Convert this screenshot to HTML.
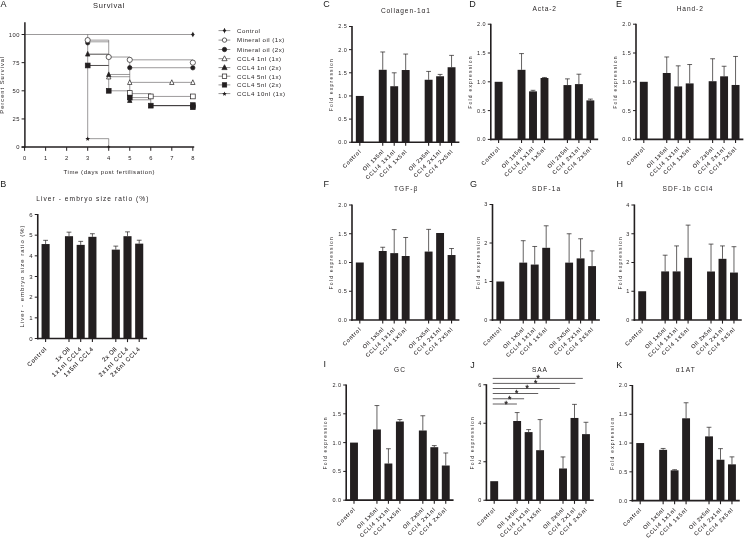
<!DOCTYPE html>
<html lang="en">
<head>
<meta charset="utf-8">
<title>Figure</title>
<style>
html,body{margin:0;padding:0;background:#fff;}
body{width:744px;height:538px;overflow:hidden;}
svg{display:block;font-family:"Liberation Sans",sans-serif;fill:#231f20;}
text{stroke:none;}
text.xl{stroke:#231f20;stroke-width:0.1px;}
</style>
</head>
<body>
<svg width="744" height="538" viewBox="0 0 744 538">
<rect x="0" y="0" width="744" height="538" fill="#fff"/>
<g>
<text x="0.40" y="7.30" font-size="9.0" fill="#1a1a1a" stroke="none">A</text>
<text x="108.70" y="8.00" font-size="7.5" text-anchor="middle" textLength="31.20" lengthAdjust="spacing">Survival</text>
<line x1="24.60" y1="34.50" x2="192.84" y2="34.50" stroke="#4a4647" stroke-width="0.55"/>
<line x1="87.69" y1="34.50" x2="87.69" y2="138.66" stroke="#4a4647" stroke-width="0.55"/>
<line x1="87.69" y1="138.66" x2="108.72" y2="138.66" stroke="#4a4647" stroke-width="0.55"/>
<line x1="108.72" y1="138.66" x2="108.72" y2="147.10" stroke="#4a4647" stroke-width="0.55"/>
<line x1="87.69" y1="40.13" x2="108.72" y2="40.13" stroke="#4a4647" stroke-width="0.55"/>
<line x1="87.69" y1="41.82" x2="108.72" y2="41.82" stroke="#4a4647" stroke-width="0.55"/>
<line x1="87.69" y1="54.20" x2="108.72" y2="54.20" stroke="#231f20" stroke-width="0.8"/>
<line x1="87.69" y1="65.47" x2="108.72" y2="65.47" stroke="#231f20" stroke-width="0.8"/>
<line x1="108.72" y1="40.13" x2="108.72" y2="90.80" stroke="#4a4647" stroke-width="0.55"/>
<line x1="108.72" y1="57.02" x2="129.75" y2="57.02" stroke="#4a4647" stroke-width="0.55"/>
<line x1="108.72" y1="74.47" x2="129.75" y2="74.47" stroke="#4a4647" stroke-width="0.55"/>
<line x1="108.72" y1="76.72" x2="129.75" y2="76.72" stroke="#4a4647" stroke-width="0.55"/>
<line x1="108.72" y1="90.80" x2="129.75" y2="90.80" stroke="#4a4647" stroke-width="0.55"/>
<line x1="129.75" y1="57.02" x2="129.75" y2="99.81" stroke="#4a4647" stroke-width="0.55"/>
<line x1="129.75" y1="59.84" x2="192.84" y2="59.84" stroke="#4a4647" stroke-width="0.55"/>
<line x1="129.75" y1="67.72" x2="192.84" y2="67.72" stroke="#4a4647" stroke-width="0.55"/>
<line x1="129.75" y1="82.36" x2="192.84" y2="82.36" stroke="#4a4647" stroke-width="0.55"/>
<line x1="129.75" y1="93.62" x2="150.78" y2="93.62" stroke="#4a4647" stroke-width="0.55"/>
<line x1="129.75" y1="97.56" x2="150.78" y2="97.56" stroke="#4a4647" stroke-width="0.55"/>
<line x1="129.75" y1="99.81" x2="150.78" y2="99.81" stroke="#4a4647" stroke-width="0.55"/>
<line x1="150.78" y1="93.62" x2="150.78" y2="105.44" stroke="#4a4647" stroke-width="0.55"/>
<line x1="150.78" y1="96.43" x2="192.84" y2="96.43" stroke="#4a4647" stroke-width="0.55"/>
<line x1="150.78" y1="105.66" x2="192.84" y2="105.66" stroke="#231f20" stroke-width="1.0"/>
<line x1="192.84" y1="59.84" x2="192.84" y2="62.65" stroke="#4a4647" stroke-width="0.55"/>
<line x1="192.84" y1="104.88" x2="192.84" y2="107.69" stroke="#4a4647" stroke-width="0.55"/>
<path d="M108.72 74.26 L110.92 78.96 H106.52 Z" fill="#fff" stroke="#231f20" stroke-width="0.7"/>
<path d="M129.75 79.78 L131.95 84.48 H127.55 Z" fill="#fff" stroke="#231f20" stroke-width="0.7"/>
<path d="M171.81 79.78 L174.01 84.48 H169.61 Z" fill="#fff" stroke="#231f20" stroke-width="0.7"/>
<path d="M192.84 79.78 L195.04 84.48 H190.64 Z" fill="#fff" stroke="#231f20" stroke-width="0.7"/>
<path d="M87.69 51.41 L89.89 56.10 H85.49 Z" fill="#231f20" stroke="#231f20" stroke-width="0.7"/>
<path d="M108.72 71.90 L110.92 76.60 H106.52 Z" fill="#231f20" stroke="#231f20" stroke-width="0.7"/>
<path d="M129.75 97.80 L131.95 102.50 H127.55 Z" fill="#231f20" stroke="#231f20" stroke-width="0.7"/>
<rect x="127.35" y="90.65" width="4.80" height="4.80" fill="#fff" stroke="#231f20" stroke-width="0.7"/>
<rect x="148.38" y="94.03" width="4.80" height="4.80" fill="#fff" stroke="#231f20" stroke-width="0.7"/>
<rect x="190.44" y="94.03" width="4.80" height="4.80" fill="#fff" stroke="#231f20" stroke-width="0.7"/>
<rect x="85.29" y="63.07" width="4.80" height="4.80" fill="#231f20" stroke="#231f20" stroke-width="0.7"/>
<rect x="106.32" y="88.40" width="4.80" height="4.80" fill="#231f20" stroke="#231f20" stroke-width="0.7"/>
<rect x="127.35" y="95.16" width="4.80" height="4.80" fill="#231f20" stroke="#231f20" stroke-width="0.7"/>
<rect x="148.38" y="103.26" width="4.80" height="4.80" fill="#231f20" stroke="#231f20" stroke-width="0.7"/>
<rect x="190.44" y="102.70" width="4.80" height="4.80" fill="#231f20" stroke="#231f20" stroke-width="0.7"/>
<rect x="190.44" y="104.84" width="4.80" height="4.80" fill="#231f20" stroke="#231f20" stroke-width="0.7"/>
<circle cx="87.69" cy="42.83" r="2.15" fill="#231f20" stroke="#231f20" stroke-width="0.7"/>
<circle cx="129.75" cy="67.72" r="2.15" fill="#231f20" stroke="#231f20" stroke-width="0.7"/>
<circle cx="192.84" cy="67.83" r="2.15" fill="#231f20" stroke="#231f20" stroke-width="0.7"/>
<circle cx="87.69" cy="40.13" r="2.6" fill="#fff" stroke="#231f20" stroke-width="0.7"/>
<circle cx="108.72" cy="57.02" r="2.6" fill="#fff" stroke="#231f20" stroke-width="0.7"/>
<circle cx="129.75" cy="59.84" r="2.6" fill="#fff" stroke="#231f20" stroke-width="0.7"/>
<circle cx="192.84" cy="62.65" r="2.6" fill="#fff" stroke="#231f20" stroke-width="0.7"/>
<polygon points="87.69,136.45 88.34,137.96 89.97,138.11 88.74,139.20 89.10,140.80 87.69,139.96 86.28,140.80 86.64,139.20 85.41,138.11 87.04,137.96" fill="#231f20"/>
<polygon points="108.72,145.10 109.21,146.23 110.43,146.34 109.51,147.16 109.78,148.36 108.72,147.73 107.66,148.36 107.93,147.16 107.01,146.34 108.23,146.23" fill="#231f20"/>
<path d="M192.84 32.60 L194.74 34.50 L192.84 36.40 L190.94 34.50 Z" fill="#231f20"/>
<line x1="192.84" y1="31.90" x2="192.84" y2="37.10" stroke="#231f20" stroke-width="0.7"/>
<line x1="24.90" y1="22.20" x2="24.90" y2="147.80" stroke="#231f20" stroke-width="1.5"/>
<line x1="21.60" y1="147.10" x2="194.20" y2="147.10" stroke="#231f20" stroke-width="1.5"/>
<line x1="21.60" y1="147.10" x2="24.90" y2="147.10" stroke="#231f20" stroke-width="1.0"/>
<text x="19.90" y="149.20" font-size="5.8" text-anchor="end" letter-spacing="0.5">0</text>
<line x1="21.60" y1="118.95" x2="24.90" y2="118.95" stroke="#231f20" stroke-width="1.0"/>
<text x="19.90" y="121.05" font-size="5.8" text-anchor="end" letter-spacing="0.5">25</text>
<line x1="21.60" y1="90.80" x2="24.90" y2="90.80" stroke="#231f20" stroke-width="1.0"/>
<text x="19.90" y="92.90" font-size="5.8" text-anchor="end" letter-spacing="0.5">50</text>
<line x1="21.60" y1="62.65" x2="24.90" y2="62.65" stroke="#231f20" stroke-width="1.0"/>
<text x="19.90" y="64.75" font-size="5.8" text-anchor="end" letter-spacing="0.5">75</text>
<line x1="21.60" y1="34.50" x2="24.90" y2="34.50" stroke="#231f20" stroke-width="1.0"/>
<text x="19.90" y="36.60" font-size="5.8" text-anchor="end" letter-spacing="0.5">100</text>
<line x1="24.60" y1="147.10" x2="24.60" y2="150.80" stroke="#231f20" stroke-width="1.0"/>
<text x="24.60" y="159.70" font-size="5.8" text-anchor="middle">0</text>
<line x1="45.63" y1="147.10" x2="45.63" y2="150.80" stroke="#231f20" stroke-width="1.0"/>
<text x="45.63" y="159.70" font-size="5.8" text-anchor="middle">1</text>
<line x1="66.66" y1="147.10" x2="66.66" y2="150.80" stroke="#231f20" stroke-width="1.0"/>
<text x="66.66" y="159.70" font-size="5.8" text-anchor="middle">2</text>
<line x1="87.69" y1="147.10" x2="87.69" y2="150.80" stroke="#231f20" stroke-width="1.0"/>
<text x="87.69" y="159.70" font-size="5.8" text-anchor="middle">3</text>
<line x1="108.72" y1="147.10" x2="108.72" y2="150.80" stroke="#231f20" stroke-width="1.0"/>
<text x="108.72" y="159.70" font-size="5.8" text-anchor="middle">4</text>
<line x1="129.75" y1="147.10" x2="129.75" y2="150.80" stroke="#231f20" stroke-width="1.0"/>
<text x="129.75" y="159.70" font-size="5.8" text-anchor="middle">5</text>
<line x1="150.78" y1="147.10" x2="150.78" y2="150.80" stroke="#231f20" stroke-width="1.0"/>
<text x="150.78" y="159.70" font-size="5.8" text-anchor="middle">6</text>
<line x1="171.81" y1="147.10" x2="171.81" y2="150.80" stroke="#231f20" stroke-width="1.0"/>
<text x="171.81" y="159.70" font-size="5.8" text-anchor="middle">7</text>
<line x1="192.84" y1="147.10" x2="192.84" y2="150.80" stroke="#231f20" stroke-width="1.0"/>
<text x="192.84" y="159.70" font-size="5.8" text-anchor="middle">8</text>
<text x="109.00" y="173.90" font-size="6.0" text-anchor="middle" textLength="90.90" lengthAdjust="spacing">Time (days post fertilisation)</text>
<text x="4.4" y="85.2" font-size="5.8" text-anchor="middle" textLength="57" lengthAdjust="spacing" transform="rotate(-90 4.4 85.2)">Percent Survival</text>
<line x1="218.50" y1="30.60" x2="230.30" y2="30.60" stroke="#4a4647" stroke-width="0.6"/>
<path d="M224.50 28.70 L226.40 30.60 L224.50 32.50 L222.60 30.60 Z" fill="#231f20"/>
<line x1="224.50" y1="28.00" x2="224.50" y2="33.20" stroke="#231f20" stroke-width="0.7"/>
<text x="237.10" y="32.90" font-size="6.1" textLength="22.80" lengthAdjust="spacing">Control</text>
<line x1="218.50" y1="40.10" x2="230.30" y2="40.10" stroke="#4a4647" stroke-width="0.6"/>
<circle cx="224.5" cy="40.1" r="2.2" fill="#fff" stroke="#231f20" stroke-width="0.7"/>
<text x="237.10" y="42.40" font-size="6.1" textLength="47.10" lengthAdjust="spacing">Mineral oil (1x)</text>
<line x1="218.50" y1="49.50" x2="230.30" y2="49.50" stroke="#4a4647" stroke-width="0.6"/>
<circle cx="224.5" cy="49.5" r="2.2" fill="#231f20" stroke="#231f20" stroke-width="0.7"/>
<text x="237.10" y="51.80" font-size="6.1" textLength="47.10" lengthAdjust="spacing">Mineral oil (2x)</text>
<line x1="218.50" y1="58.70" x2="230.30" y2="58.70" stroke="#4a4647" stroke-width="0.6"/>
<path d="M224.50 55.80 L227.10 60.70 H221.90 Z" fill="#fff" stroke="#231f20" stroke-width="0.7"/>
<text x="237.10" y="61.00" font-size="6.1" textLength="44.00" lengthAdjust="spacing">CCL4 1nl (1x)</text>
<line x1="218.50" y1="67.60" x2="230.30" y2="67.60" stroke="#4a4647" stroke-width="0.6"/>
<path d="M224.50 64.70 L227.10 69.60 H221.90 Z" fill="#231f20" stroke="#231f20" stroke-width="0.7"/>
<text x="237.10" y="69.90" font-size="6.1" textLength="44.00" lengthAdjust="spacing">CCL4 1nl (2x)</text>
<line x1="218.50" y1="76.20" x2="230.30" y2="76.20" stroke="#4a4647" stroke-width="0.6"/>
<rect x="222.30" y="74.00" width="4.40" height="4.40" fill="#fff" stroke="#231f20" stroke-width="0.7"/>
<text x="237.10" y="78.50" font-size="6.1" textLength="44.00" lengthAdjust="spacing">CCL4 5nl (1x)</text>
<line x1="218.50" y1="84.90" x2="230.30" y2="84.90" stroke="#4a4647" stroke-width="0.6"/>
<rect x="222.30" y="82.70" width="4.40" height="4.40" fill="#231f20" stroke="#231f20" stroke-width="0.7"/>
<text x="237.10" y="87.20" font-size="6.1" textLength="44.00" lengthAdjust="spacing">CCL4 5nl (2x)</text>
<line x1="218.50" y1="93.60" x2="230.30" y2="93.60" stroke="#4a4647" stroke-width="0.6"/>
<polygon points="224.50,91.40 225.15,92.91 226.78,93.06 225.55,94.14 225.91,95.74 224.50,94.90 223.09,95.74 223.45,94.14 222.22,93.06 223.85,92.91" fill="#231f20"/>
<text x="237.10" y="95.90" font-size="6.1" textLength="48.00" lengthAdjust="spacing">CCL4 10nl (1x)</text>
</g>
<g>
<text x="0.20" y="187.25" font-size="9.0" fill="#1a1a1a" stroke="none">B</text>
<text x="92.30" y="200.78" font-size="6.6" text-anchor="middle" textLength="112.20" lengthAdjust="spacing">Liver - embryo size ratio (%)</text>
<line x1="45.60" y1="244.05" x2="45.60" y2="240.33" stroke="#231f20" stroke-width="0.7"/>
<line x1="43.20" y1="240.33" x2="48.00" y2="240.33" stroke="#231f20" stroke-width="0.7"/>
<rect x="41.55" y="244.05" width="8.10" height="94.45" fill="#231f20"/>
<line x1="45.60" y1="338.50" x2="45.60" y2="342.10" stroke="#231f20" stroke-width="1.1"/>
<line x1="69.00" y1="236.20" x2="69.00" y2="232.17" stroke="#231f20" stroke-width="0.7"/>
<line x1="66.60" y1="232.17" x2="71.40" y2="232.17" stroke="#231f20" stroke-width="0.7"/>
<rect x="64.95" y="236.20" width="8.10" height="102.30" fill="#231f20"/>
<line x1="69.00" y1="338.50" x2="69.00" y2="342.10" stroke="#231f20" stroke-width="1.1"/>
<line x1="80.70" y1="244.88" x2="80.70" y2="241.37" stroke="#231f20" stroke-width="0.7"/>
<line x1="78.30" y1="241.37" x2="83.10" y2="241.37" stroke="#231f20" stroke-width="0.7"/>
<rect x="76.65" y="244.88" width="8.10" height="93.62" fill="#231f20"/>
<line x1="80.70" y1="338.50" x2="80.70" y2="342.10" stroke="#231f20" stroke-width="1.1"/>
<line x1="92.40" y1="236.82" x2="92.40" y2="233.72" stroke="#231f20" stroke-width="0.7"/>
<line x1="90.00" y1="233.72" x2="94.80" y2="233.72" stroke="#231f20" stroke-width="0.7"/>
<rect x="88.35" y="236.82" width="8.10" height="101.68" fill="#231f20"/>
<line x1="92.40" y1="338.50" x2="92.40" y2="342.10" stroke="#231f20" stroke-width="1.1"/>
<line x1="115.80" y1="249.63" x2="115.80" y2="246.12" stroke="#231f20" stroke-width="0.7"/>
<line x1="113.40" y1="246.12" x2="118.20" y2="246.12" stroke="#231f20" stroke-width="0.7"/>
<rect x="111.75" y="249.63" width="8.10" height="88.87" fill="#231f20"/>
<line x1="115.80" y1="338.50" x2="115.80" y2="342.10" stroke="#231f20" stroke-width="1.1"/>
<line x1="127.50" y1="236.20" x2="127.50" y2="231.86" stroke="#231f20" stroke-width="0.7"/>
<line x1="125.10" y1="231.86" x2="129.90" y2="231.86" stroke="#231f20" stroke-width="0.7"/>
<rect x="123.45" y="236.20" width="8.10" height="102.30" fill="#231f20"/>
<line x1="127.50" y1="338.50" x2="127.50" y2="342.10" stroke="#231f20" stroke-width="1.1"/>
<line x1="139.20" y1="243.64" x2="139.20" y2="240.23" stroke="#231f20" stroke-width="0.7"/>
<line x1="136.80" y1="240.23" x2="141.60" y2="240.23" stroke="#231f20" stroke-width="0.7"/>
<rect x="135.15" y="243.64" width="8.10" height="94.86" fill="#231f20"/>
<line x1="139.20" y1="338.50" x2="139.20" y2="342.10" stroke="#231f20" stroke-width="1.1"/>
<line x1="37.75" y1="214.00" x2="37.75" y2="339.30" stroke="#231f20" stroke-width="1.6"/>
<line x1="36.95" y1="338.50" x2="147.05" y2="338.50" stroke="#231f20" stroke-width="1.7"/>
<line x1="34.75" y1="338.50" x2="37.75" y2="338.50" stroke="#231f20" stroke-width="1.0"/>
<text x="33.15" y="340.66" font-size="6.0" text-anchor="end" letter-spacing="0.5">0</text>
<line x1="34.75" y1="317.83" x2="37.75" y2="317.83" stroke="#231f20" stroke-width="1.0"/>
<text x="33.15" y="319.99" font-size="6.0" text-anchor="end" letter-spacing="0.5">1</text>
<line x1="34.75" y1="297.17" x2="37.75" y2="297.17" stroke="#231f20" stroke-width="1.0"/>
<text x="33.15" y="299.33" font-size="6.0" text-anchor="end" letter-spacing="0.5">2</text>
<line x1="34.75" y1="276.50" x2="37.75" y2="276.50" stroke="#231f20" stroke-width="1.0"/>
<text x="33.15" y="278.66" font-size="6.0" text-anchor="end" letter-spacing="0.5">3</text>
<line x1="34.75" y1="255.83" x2="37.75" y2="255.83" stroke="#231f20" stroke-width="1.0"/>
<text x="33.15" y="257.99" font-size="6.0" text-anchor="end" letter-spacing="0.5">4</text>
<line x1="34.75" y1="235.17" x2="37.75" y2="235.17" stroke="#231f20" stroke-width="1.0"/>
<text x="33.15" y="237.33" font-size="6.0" text-anchor="end" letter-spacing="0.5">5</text>
<line x1="34.75" y1="214.50" x2="37.75" y2="214.50" stroke="#231f20" stroke-width="1.0"/>
<text x="33.15" y="216.66" font-size="6.0" text-anchor="end" letter-spacing="0.5">6</text>
<text x="24.00" y="276.40" font-size="6.0" text-anchor="middle" textLength="102.00" lengthAdjust="spacing" transform="rotate(-90 24.00 276.40)">Liver - embryo size ratio (%)</text>
<text class="xl" x="46.80" y="349.70" font-size="6.0" text-anchor="end" textLength="24.50" lengthAdjust="spacing" transform="rotate(-45 46.80 349.70)">Control</text>
<text class="xl" x="70.20" y="349.70" font-size="6.0" text-anchor="end" textLength="17.50" lengthAdjust="spacing" transform="rotate(-45 70.20 349.70)">1x Oil</text>
<text class="xl" x="81.90" y="349.70" font-size="6.0" text-anchor="end" textLength="39.00" lengthAdjust="spacing" transform="rotate(-45 81.90 349.70)">1x1nl CCL4</text>
<text class="xl" x="93.60" y="349.70" font-size="6.0" text-anchor="end" textLength="39.00" lengthAdjust="spacing" transform="rotate(-45 93.60 349.70)">1x5nl CCL4</text>
<text class="xl" x="117.00" y="349.70" font-size="6.0" text-anchor="end" textLength="17.50" lengthAdjust="spacing" transform="rotate(-45 117.00 349.70)">2x Oil</text>
<text class="xl" x="128.70" y="349.70" font-size="6.0" text-anchor="end" textLength="39.00" lengthAdjust="spacing" transform="rotate(-45 128.70 349.70)">2x1nl CCL4</text>
<text class="xl" x="140.40" y="349.70" font-size="6.0" text-anchor="end" textLength="39.00" lengthAdjust="spacing" transform="rotate(-45 140.40 349.70)">2x5nl CCL4</text>
</g>
<g>
<text x="323.20" y="7.25" font-size="9.0" fill="#1a1a1a" stroke="none">C</text>
<text x="405.40" y="13.18" font-size="6.6" text-anchor="middle" textLength="49.00" lengthAdjust="spacing">Collagen-1α1</text>
<rect x="355.85" y="95.95" width="7.90" height="46.30" fill="#231f20"/>
<line x1="359.80" y1="142.25" x2="359.80" y2="145.85" stroke="#231f20" stroke-width="1.1"/>
<line x1="382.74" y1="69.79" x2="382.74" y2="51.97" stroke="#231f20" stroke-width="0.7"/>
<line x1="380.34" y1="51.97" x2="385.14" y2="51.97" stroke="#231f20" stroke-width="0.7"/>
<rect x="378.79" y="69.79" width="7.90" height="72.46" fill="#231f20"/>
<line x1="382.74" y1="142.25" x2="382.74" y2="145.85" stroke="#231f20" stroke-width="1.1"/>
<line x1="394.21" y1="86.23" x2="394.21" y2="72.80" stroke="#231f20" stroke-width="0.7"/>
<line x1="391.81" y1="72.80" x2="396.61" y2="72.80" stroke="#231f20" stroke-width="0.7"/>
<rect x="390.26" y="86.23" width="7.90" height="56.02" fill="#231f20"/>
<line x1="394.21" y1="142.25" x2="394.21" y2="145.85" stroke="#231f20" stroke-width="1.1"/>
<line x1="405.68" y1="70.02" x2="405.68" y2="54.05" stroke="#231f20" stroke-width="0.7"/>
<line x1="403.28" y1="54.05" x2="408.08" y2="54.05" stroke="#231f20" stroke-width="0.7"/>
<rect x="401.73" y="70.02" width="7.90" height="72.23" fill="#231f20"/>
<line x1="405.68" y1="142.25" x2="405.68" y2="145.85" stroke="#231f20" stroke-width="1.1"/>
<line x1="428.62" y1="79.75" x2="428.62" y2="71.41" stroke="#231f20" stroke-width="0.7"/>
<line x1="426.22" y1="71.41" x2="431.02" y2="71.41" stroke="#231f20" stroke-width="0.7"/>
<rect x="424.67" y="79.75" width="7.90" height="62.50" fill="#231f20"/>
<line x1="428.62" y1="142.25" x2="428.62" y2="145.85" stroke="#231f20" stroke-width="1.1"/>
<line x1="440.09" y1="76.27" x2="440.09" y2="74.42" stroke="#231f20" stroke-width="0.7"/>
<line x1="437.69" y1="74.42" x2="442.49" y2="74.42" stroke="#231f20" stroke-width="0.7"/>
<rect x="436.14" y="76.27" width="7.90" height="65.98" fill="#231f20"/>
<line x1="440.09" y1="142.25" x2="440.09" y2="145.85" stroke="#231f20" stroke-width="1.1"/>
<line x1="451.56" y1="67.24" x2="451.56" y2="55.39" stroke="#231f20" stroke-width="0.7"/>
<line x1="449.16" y1="55.39" x2="453.96" y2="55.39" stroke="#231f20" stroke-width="0.7"/>
<rect x="447.61" y="67.24" width="7.90" height="75.01" fill="#231f20"/>
<line x1="451.56" y1="142.25" x2="451.56" y2="145.85" stroke="#231f20" stroke-width="1.1"/>
<line x1="352.00" y1="26.00" x2="352.00" y2="143.05" stroke="#231f20" stroke-width="1.6"/>
<line x1="351.20" y1="142.25" x2="459.36" y2="142.25" stroke="#231f20" stroke-width="1.7"/>
<line x1="349.00" y1="142.25" x2="352.00" y2="142.25" stroke="#231f20" stroke-width="1.0"/>
<text x="347.40" y="144.23" font-size="5.5" text-anchor="end" letter-spacing="0.5">0.0</text>
<line x1="349.00" y1="119.10" x2="352.00" y2="119.10" stroke="#231f20" stroke-width="1.0"/>
<text x="347.40" y="121.08" font-size="5.5" text-anchor="end" letter-spacing="0.5">0.5</text>
<line x1="349.00" y1="95.95" x2="352.00" y2="95.95" stroke="#231f20" stroke-width="1.0"/>
<text x="347.40" y="97.93" font-size="5.5" text-anchor="end" letter-spacing="0.5">1.0</text>
<line x1="349.00" y1="72.80" x2="352.00" y2="72.80" stroke="#231f20" stroke-width="1.0"/>
<text x="347.40" y="74.78" font-size="5.5" text-anchor="end" letter-spacing="0.5">1.5</text>
<line x1="349.00" y1="49.65" x2="352.00" y2="49.65" stroke="#231f20" stroke-width="1.0"/>
<text x="347.40" y="51.63" font-size="5.5" text-anchor="end" letter-spacing="0.5">2.0</text>
<line x1="349.00" y1="26.50" x2="352.00" y2="26.50" stroke="#231f20" stroke-width="1.0"/>
<text x="347.40" y="28.48" font-size="5.5" text-anchor="end" letter-spacing="0.5">2.5</text>
<text x="333.20" y="85.17" font-size="5.1" text-anchor="middle" textLength="52.20" lengthAdjust="spacing" transform="rotate(-90 333.20 85.17)">Fold expression</text>
<text class="xl" x="361.00" y="152.25" font-size="5.5" text-anchor="end" textLength="23.00" lengthAdjust="spacing" transform="rotate(-45 361.00 152.25)">Control</text>
<text class="xl" x="383.94" y="152.25" font-size="5.5" text-anchor="end" textLength="27.00" lengthAdjust="spacing" transform="rotate(-45 383.94 152.25)">Oil 1x5nl</text>
<text class="xl" x="395.41" y="152.25" font-size="5.5" text-anchor="end" textLength="39.00" lengthAdjust="spacing" transform="rotate(-45 395.41 152.25)">CCLl4 1x1nl</text>
<text class="xl" x="406.88" y="152.25" font-size="5.5" text-anchor="end" textLength="36.00" lengthAdjust="spacing" transform="rotate(-45 406.88 152.25)">CCl4 1x5nl</text>
<text class="xl" x="429.82" y="152.25" font-size="5.5" text-anchor="end" textLength="27.00" lengthAdjust="spacing" transform="rotate(-45 429.82 152.25)">Oil 2x5nl</text>
<text class="xl" x="441.29" y="152.25" font-size="5.5" text-anchor="end" textLength="36.00" lengthAdjust="spacing" transform="rotate(-45 441.29 152.25)">CCl4 2x1nl</text>
<text class="xl" x="452.76" y="152.25" font-size="5.5" text-anchor="end" textLength="36.00" lengthAdjust="spacing" transform="rotate(-45 452.76 152.25)">CCl4 2x5nl</text>
</g>
<g>
<text x="469.30" y="7.15" font-size="9.0" fill="#1a1a1a" stroke="none">D</text>
<text x="544.30" y="11.08" font-size="6.6" text-anchor="middle" textLength="23.40" lengthAdjust="spacing">Acta-2</text>
<rect x="494.65" y="81.80" width="7.90" height="57.60" fill="#231f20"/>
<line x1="498.60" y1="139.40" x2="498.60" y2="143.00" stroke="#231f20" stroke-width="1.1"/>
<line x1="521.54" y1="69.82" x2="521.54" y2="53.58" stroke="#231f20" stroke-width="0.7"/>
<line x1="519.14" y1="53.58" x2="523.94" y2="53.58" stroke="#231f20" stroke-width="0.7"/>
<rect x="517.59" y="69.82" width="7.90" height="69.58" fill="#231f20"/>
<line x1="521.54" y1="139.40" x2="521.54" y2="143.00" stroke="#231f20" stroke-width="1.1"/>
<line x1="533.01" y1="91.36" x2="533.01" y2="90.32" stroke="#231f20" stroke-width="0.7"/>
<line x1="530.61" y1="90.32" x2="535.41" y2="90.32" stroke="#231f20" stroke-width="0.7"/>
<rect x="529.06" y="91.36" width="7.90" height="48.04" fill="#231f20"/>
<line x1="533.01" y1="139.40" x2="533.01" y2="143.00" stroke="#231f20" stroke-width="1.1"/>
<line x1="544.48" y1="78.00" x2="544.48" y2="77.48" stroke="#231f20" stroke-width="0.7"/>
<line x1="542.08" y1="77.48" x2="546.88" y2="77.48" stroke="#231f20" stroke-width="0.7"/>
<rect x="540.53" y="78.00" width="7.90" height="61.40" fill="#231f20"/>
<line x1="544.48" y1="139.40" x2="544.48" y2="143.00" stroke="#231f20" stroke-width="1.1"/>
<line x1="567.42" y1="85.08" x2="567.42" y2="78.86" stroke="#231f20" stroke-width="0.7"/>
<line x1="565.02" y1="78.86" x2="569.82" y2="78.86" stroke="#231f20" stroke-width="0.7"/>
<rect x="563.47" y="85.08" width="7.90" height="54.32" fill="#231f20"/>
<line x1="567.42" y1="139.40" x2="567.42" y2="143.00" stroke="#231f20" stroke-width="1.1"/>
<line x1="578.89" y1="84.10" x2="578.89" y2="74.20" stroke="#231f20" stroke-width="0.7"/>
<line x1="576.49" y1="74.20" x2="581.29" y2="74.20" stroke="#231f20" stroke-width="0.7"/>
<rect x="574.94" y="84.10" width="7.90" height="55.30" fill="#231f20"/>
<line x1="578.89" y1="139.40" x2="578.89" y2="143.00" stroke="#231f20" stroke-width="1.1"/>
<line x1="590.36" y1="100.40" x2="590.36" y2="99.08" stroke="#231f20" stroke-width="0.7"/>
<line x1="587.96" y1="99.08" x2="592.76" y2="99.08" stroke="#231f20" stroke-width="0.7"/>
<rect x="586.41" y="100.40" width="7.90" height="39.00" fill="#231f20"/>
<line x1="590.36" y1="139.40" x2="590.36" y2="143.00" stroke="#231f20" stroke-width="1.1"/>
<line x1="490.80" y1="23.70" x2="490.80" y2="140.20" stroke="#231f20" stroke-width="1.6"/>
<line x1="490.00" y1="139.40" x2="598.16" y2="139.40" stroke="#231f20" stroke-width="1.7"/>
<line x1="487.80" y1="139.40" x2="490.80" y2="139.40" stroke="#231f20" stroke-width="1.0"/>
<text x="486.20" y="141.38" font-size="5.5" text-anchor="end" letter-spacing="0.5">0.0</text>
<line x1="487.80" y1="110.60" x2="490.80" y2="110.60" stroke="#231f20" stroke-width="1.0"/>
<text x="486.20" y="112.58" font-size="5.5" text-anchor="end" letter-spacing="0.5">0.5</text>
<line x1="487.80" y1="81.80" x2="490.80" y2="81.80" stroke="#231f20" stroke-width="1.0"/>
<text x="486.20" y="83.78" font-size="5.5" text-anchor="end" letter-spacing="0.5">1.0</text>
<line x1="487.80" y1="53.00" x2="490.80" y2="53.00" stroke="#231f20" stroke-width="1.0"/>
<text x="486.20" y="54.98" font-size="5.5" text-anchor="end" letter-spacing="0.5">1.5</text>
<line x1="487.80" y1="24.20" x2="490.80" y2="24.20" stroke="#231f20" stroke-width="1.0"/>
<text x="486.20" y="26.18" font-size="5.5" text-anchor="end" letter-spacing="0.5">2.0</text>
<text x="472.00" y="82.60" font-size="5.1" text-anchor="middle" textLength="52.20" lengthAdjust="spacing" transform="rotate(-90 472.00 82.60)">Fold expression</text>
<text class="xl" x="499.80" y="149.40" font-size="5.5" text-anchor="end" textLength="23.00" lengthAdjust="spacing" transform="rotate(-45 499.80 149.40)">Control</text>
<text class="xl" x="522.74" y="149.40" font-size="5.5" text-anchor="end" textLength="27.00" lengthAdjust="spacing" transform="rotate(-45 522.74 149.40)">Oil 1x5nl</text>
<text class="xl" x="534.21" y="149.40" font-size="5.5" text-anchor="end" textLength="39.00" lengthAdjust="spacing" transform="rotate(-45 534.21 149.40)">CCLl4 1x1nl</text>
<text class="xl" x="545.68" y="149.40" font-size="5.5" text-anchor="end" textLength="36.00" lengthAdjust="spacing" transform="rotate(-45 545.68 149.40)">CCl4 1x5nl</text>
<text class="xl" x="568.62" y="149.40" font-size="5.5" text-anchor="end" textLength="27.00" lengthAdjust="spacing" transform="rotate(-45 568.62 149.40)">Oil 2x5nl</text>
<text class="xl" x="580.09" y="149.40" font-size="5.5" text-anchor="end" textLength="36.00" lengthAdjust="spacing" transform="rotate(-45 580.09 149.40)">CCl4 2x1nl</text>
<text class="xl" x="591.56" y="149.40" font-size="5.5" text-anchor="end" textLength="36.00" lengthAdjust="spacing" transform="rotate(-45 591.56 149.40)">CCl4 2x5nl</text>
</g>
<g>
<text x="616.00" y="7.15" font-size="9.0" fill="#1a1a1a" stroke="none">E</text>
<text x="689.80" y="11.28" font-size="6.6" text-anchor="middle" textLength="26.20" lengthAdjust="spacing">Hand-2</text>
<rect x="639.85" y="81.80" width="7.90" height="57.60" fill="#231f20"/>
<line x1="643.80" y1="139.40" x2="643.80" y2="143.00" stroke="#231f20" stroke-width="1.1"/>
<line x1="666.74" y1="72.99" x2="666.74" y2="56.97" stroke="#231f20" stroke-width="0.7"/>
<line x1="664.34" y1="56.97" x2="669.14" y2="56.97" stroke="#231f20" stroke-width="0.7"/>
<rect x="662.79" y="72.99" width="7.90" height="66.41" fill="#231f20"/>
<line x1="666.74" y1="139.40" x2="666.74" y2="143.00" stroke="#231f20" stroke-width="1.1"/>
<line x1="678.21" y1="86.41" x2="678.21" y2="65.84" stroke="#231f20" stroke-width="0.7"/>
<line x1="675.81" y1="65.84" x2="680.61" y2="65.84" stroke="#231f20" stroke-width="0.7"/>
<rect x="674.26" y="86.41" width="7.90" height="52.99" fill="#231f20"/>
<line x1="678.21" y1="139.40" x2="678.21" y2="143.00" stroke="#231f20" stroke-width="1.1"/>
<line x1="689.68" y1="83.41" x2="689.68" y2="64.52" stroke="#231f20" stroke-width="0.7"/>
<line x1="687.28" y1="64.52" x2="692.08" y2="64.52" stroke="#231f20" stroke-width="0.7"/>
<rect x="685.73" y="83.41" width="7.90" height="55.99" fill="#231f20"/>
<line x1="689.68" y1="139.40" x2="689.68" y2="143.00" stroke="#231f20" stroke-width="1.1"/>
<line x1="712.62" y1="81.22" x2="712.62" y2="58.76" stroke="#231f20" stroke-width="0.7"/>
<line x1="710.22" y1="58.76" x2="715.02" y2="58.76" stroke="#231f20" stroke-width="0.7"/>
<rect x="708.67" y="81.22" width="7.90" height="58.18" fill="#231f20"/>
<line x1="712.62" y1="139.40" x2="712.62" y2="143.00" stroke="#231f20" stroke-width="1.1"/>
<line x1="724.09" y1="76.33" x2="724.09" y2="66.25" stroke="#231f20" stroke-width="0.7"/>
<line x1="721.69" y1="66.25" x2="726.49" y2="66.25" stroke="#231f20" stroke-width="0.7"/>
<rect x="720.14" y="76.33" width="7.90" height="63.07" fill="#231f20"/>
<line x1="724.09" y1="139.40" x2="724.09" y2="143.00" stroke="#231f20" stroke-width="1.1"/>
<line x1="735.56" y1="84.97" x2="735.56" y2="56.46" stroke="#231f20" stroke-width="0.7"/>
<line x1="733.16" y1="56.46" x2="737.96" y2="56.46" stroke="#231f20" stroke-width="0.7"/>
<rect x="731.61" y="84.97" width="7.90" height="54.43" fill="#231f20"/>
<line x1="735.56" y1="139.40" x2="735.56" y2="143.00" stroke="#231f20" stroke-width="1.1"/>
<line x1="636.00" y1="23.70" x2="636.00" y2="140.20" stroke="#231f20" stroke-width="1.6"/>
<line x1="635.20" y1="139.40" x2="743.36" y2="139.40" stroke="#231f20" stroke-width="1.7"/>
<line x1="633.00" y1="139.40" x2="636.00" y2="139.40" stroke="#231f20" stroke-width="1.0"/>
<text x="631.40" y="141.38" font-size="5.5" text-anchor="end" letter-spacing="0.5">0.0</text>
<line x1="633.00" y1="110.60" x2="636.00" y2="110.60" stroke="#231f20" stroke-width="1.0"/>
<text x="631.40" y="112.58" font-size="5.5" text-anchor="end" letter-spacing="0.5">0.5</text>
<line x1="633.00" y1="81.80" x2="636.00" y2="81.80" stroke="#231f20" stroke-width="1.0"/>
<text x="631.40" y="83.78" font-size="5.5" text-anchor="end" letter-spacing="0.5">1.0</text>
<line x1="633.00" y1="53.00" x2="636.00" y2="53.00" stroke="#231f20" stroke-width="1.0"/>
<text x="631.40" y="54.98" font-size="5.5" text-anchor="end" letter-spacing="0.5">1.5</text>
<line x1="633.00" y1="24.20" x2="636.00" y2="24.20" stroke="#231f20" stroke-width="1.0"/>
<text x="631.40" y="26.18" font-size="5.5" text-anchor="end" letter-spacing="0.5">2.0</text>
<text x="617.20" y="82.60" font-size="5.1" text-anchor="middle" textLength="52.20" lengthAdjust="spacing" transform="rotate(-90 617.20 82.60)">Fold expression</text>
<text class="xl" x="645.00" y="149.40" font-size="5.5" text-anchor="end" textLength="23.00" lengthAdjust="spacing" transform="rotate(-45 645.00 149.40)">Control</text>
<text class="xl" x="667.94" y="149.40" font-size="5.5" text-anchor="end" textLength="27.00" lengthAdjust="spacing" transform="rotate(-45 667.94 149.40)">Oil 1x5nl</text>
<text class="xl" x="679.41" y="149.40" font-size="5.5" text-anchor="end" textLength="39.00" lengthAdjust="spacing" transform="rotate(-45 679.41 149.40)">CCLl4 1x1nl</text>
<text class="xl" x="690.88" y="149.40" font-size="5.5" text-anchor="end" textLength="36.00" lengthAdjust="spacing" transform="rotate(-45 690.88 149.40)">CCl4 1x5nl</text>
<text class="xl" x="713.82" y="149.40" font-size="5.5" text-anchor="end" textLength="27.00" lengthAdjust="spacing" transform="rotate(-45 713.82 149.40)">Oil 2x5nl</text>
<text class="xl" x="725.29" y="149.40" font-size="5.5" text-anchor="end" textLength="36.00" lengthAdjust="spacing" transform="rotate(-45 725.29 149.40)">CCl4 2x1nl</text>
<text class="xl" x="736.76" y="149.40" font-size="5.5" text-anchor="end" textLength="36.00" lengthAdjust="spacing" transform="rotate(-45 736.76 149.40)">CCl4 2x5nl</text>
</g>
<g>
<text x="323.60" y="187.05" font-size="9.0" fill="#1a1a1a" stroke="none">F</text>
<text x="405.60" y="191.48" font-size="6.6" text-anchor="middle" textLength="23.20" lengthAdjust="spacing">TGF-β</text>
<rect x="355.85" y="262.50" width="7.90" height="57.50" fill="#231f20"/>
<line x1="359.80" y1="320.00" x2="359.80" y2="323.60" stroke="#231f20" stroke-width="1.1"/>
<line x1="382.74" y1="251.00" x2="382.74" y2="247.26" stroke="#231f20" stroke-width="0.7"/>
<line x1="380.34" y1="247.26" x2="385.14" y2="247.26" stroke="#231f20" stroke-width="0.7"/>
<rect x="378.79" y="251.00" width="7.90" height="69.00" fill="#231f20"/>
<line x1="382.74" y1="320.00" x2="382.74" y2="323.60" stroke="#231f20" stroke-width="1.1"/>
<line x1="394.21" y1="253.13" x2="394.21" y2="229.61" stroke="#231f20" stroke-width="0.7"/>
<line x1="391.81" y1="229.61" x2="396.61" y2="229.61" stroke="#231f20" stroke-width="0.7"/>
<rect x="390.26" y="253.13" width="7.90" height="66.87" fill="#231f20"/>
<line x1="394.21" y1="320.00" x2="394.21" y2="323.60" stroke="#231f20" stroke-width="1.1"/>
<line x1="405.68" y1="256.00" x2="405.68" y2="237.49" stroke="#231f20" stroke-width="0.7"/>
<line x1="403.28" y1="237.49" x2="408.08" y2="237.49" stroke="#231f20" stroke-width="0.7"/>
<rect x="401.73" y="256.00" width="7.90" height="64.00" fill="#231f20"/>
<line x1="405.68" y1="320.00" x2="405.68" y2="323.60" stroke="#231f20" stroke-width="1.1"/>
<line x1="428.62" y1="251.57" x2="428.62" y2="229.38" stroke="#231f20" stroke-width="0.7"/>
<line x1="426.22" y1="229.38" x2="431.02" y2="229.38" stroke="#231f20" stroke-width="0.7"/>
<rect x="424.67" y="251.57" width="7.90" height="68.43" fill="#231f20"/>
<line x1="428.62" y1="320.00" x2="428.62" y2="323.60" stroke="#231f20" stroke-width="1.1"/>
<rect x="436.14" y="233.00" width="7.90" height="87.00" fill="#231f20"/>
<line x1="440.09" y1="320.00" x2="440.09" y2="323.60" stroke="#231f20" stroke-width="1.1"/>
<line x1="451.56" y1="255.03" x2="451.56" y2="248.53" stroke="#231f20" stroke-width="0.7"/>
<line x1="449.16" y1="248.53" x2="453.96" y2="248.53" stroke="#231f20" stroke-width="0.7"/>
<rect x="447.61" y="255.03" width="7.90" height="64.97" fill="#231f20"/>
<line x1="451.56" y1="320.00" x2="451.56" y2="323.60" stroke="#231f20" stroke-width="1.1"/>
<line x1="352.00" y1="204.50" x2="352.00" y2="320.80" stroke="#231f20" stroke-width="1.6"/>
<line x1="351.20" y1="320.00" x2="459.36" y2="320.00" stroke="#231f20" stroke-width="1.7"/>
<line x1="349.00" y1="320.00" x2="352.00" y2="320.00" stroke="#231f20" stroke-width="1.0"/>
<text x="347.40" y="321.98" font-size="5.5" text-anchor="end" letter-spacing="0.5">0.0</text>
<line x1="349.00" y1="291.25" x2="352.00" y2="291.25" stroke="#231f20" stroke-width="1.0"/>
<text x="347.40" y="293.23" font-size="5.5" text-anchor="end" letter-spacing="0.5">0.5</text>
<line x1="349.00" y1="262.50" x2="352.00" y2="262.50" stroke="#231f20" stroke-width="1.0"/>
<text x="347.40" y="264.48" font-size="5.5" text-anchor="end" letter-spacing="0.5">1.0</text>
<line x1="349.00" y1="233.75" x2="352.00" y2="233.75" stroke="#231f20" stroke-width="1.0"/>
<text x="347.40" y="235.73" font-size="5.5" text-anchor="end" letter-spacing="0.5">1.5</text>
<line x1="349.00" y1="205.00" x2="352.00" y2="205.00" stroke="#231f20" stroke-width="1.0"/>
<text x="347.40" y="206.98" font-size="5.5" text-anchor="end" letter-spacing="0.5">2.0</text>
<text x="333.20" y="263.30" font-size="5.1" text-anchor="middle" textLength="52.20" lengthAdjust="spacing" transform="rotate(-90 333.20 263.30)">Fold expression</text>
<text class="xl" x="361.00" y="330.00" font-size="5.5" text-anchor="end" textLength="23.00" lengthAdjust="spacing" transform="rotate(-45 361.00 330.00)">Control</text>
<text class="xl" x="383.94" y="330.00" font-size="5.5" text-anchor="end" textLength="27.00" lengthAdjust="spacing" transform="rotate(-45 383.94 330.00)">Oil 1x5nl</text>
<text class="xl" x="395.41" y="330.00" font-size="5.5" text-anchor="end" textLength="39.00" lengthAdjust="spacing" transform="rotate(-45 395.41 330.00)">CCLl4 1x1nl</text>
<text class="xl" x="406.88" y="330.00" font-size="5.5" text-anchor="end" textLength="36.00" lengthAdjust="spacing" transform="rotate(-45 406.88 330.00)">CCl4 1x5nl</text>
<text class="xl" x="429.82" y="330.00" font-size="5.5" text-anchor="end" textLength="27.00" lengthAdjust="spacing" transform="rotate(-45 429.82 330.00)">Oil 2x5nl</text>
<text class="xl" x="441.29" y="330.00" font-size="5.5" text-anchor="end" textLength="36.00" lengthAdjust="spacing" transform="rotate(-45 441.29 330.00)">CCl4 2x1nl</text>
<text class="xl" x="452.76" y="330.00" font-size="5.5" text-anchor="end" textLength="36.00" lengthAdjust="spacing" transform="rotate(-45 452.76 330.00)">CCl4 2x5nl</text>
</g>
<g>
<text x="470.00" y="187.35" font-size="9.0" fill="#1a1a1a" stroke="none">G</text>
<text x="546.10" y="191.48" font-size="6.6" text-anchor="middle" textLength="28.20" lengthAdjust="spacing">SDF-1a</text>
<rect x="496.35" y="281.50" width="7.90" height="38.50" fill="#231f20"/>
<line x1="500.30" y1="320.00" x2="500.30" y2="323.60" stroke="#231f20" stroke-width="1.1"/>
<line x1="523.24" y1="262.63" x2="523.24" y2="240.69" stroke="#231f20" stroke-width="0.7"/>
<line x1="520.84" y1="240.69" x2="525.64" y2="240.69" stroke="#231f20" stroke-width="0.7"/>
<rect x="519.29" y="262.63" width="7.90" height="57.37" fill="#231f20"/>
<line x1="523.24" y1="320.00" x2="523.24" y2="323.60" stroke="#231f20" stroke-width="1.1"/>
<line x1="534.71" y1="264.56" x2="534.71" y2="246.47" stroke="#231f20" stroke-width="0.7"/>
<line x1="532.31" y1="246.47" x2="537.11" y2="246.47" stroke="#231f20" stroke-width="0.7"/>
<rect x="530.76" y="264.56" width="7.90" height="55.44" fill="#231f20"/>
<line x1="534.71" y1="320.00" x2="534.71" y2="323.60" stroke="#231f20" stroke-width="1.1"/>
<line x1="546.18" y1="247.81" x2="546.18" y2="225.79" stroke="#231f20" stroke-width="0.7"/>
<line x1="543.78" y1="225.79" x2="548.58" y2="225.79" stroke="#231f20" stroke-width="0.7"/>
<rect x="542.23" y="247.81" width="7.90" height="72.19" fill="#231f20"/>
<line x1="546.18" y1="320.00" x2="546.18" y2="323.60" stroke="#231f20" stroke-width="1.1"/>
<line x1="569.12" y1="262.63" x2="569.12" y2="233.76" stroke="#231f20" stroke-width="0.7"/>
<line x1="566.72" y1="233.76" x2="571.52" y2="233.76" stroke="#231f20" stroke-width="0.7"/>
<rect x="565.17" y="262.63" width="7.90" height="57.37" fill="#231f20"/>
<line x1="569.12" y1="320.00" x2="569.12" y2="323.60" stroke="#231f20" stroke-width="1.1"/>
<line x1="580.59" y1="258.40" x2="580.59" y2="238.76" stroke="#231f20" stroke-width="0.7"/>
<line x1="578.19" y1="238.76" x2="582.99" y2="238.76" stroke="#231f20" stroke-width="0.7"/>
<rect x="576.64" y="258.40" width="7.90" height="61.60" fill="#231f20"/>
<line x1="580.59" y1="320.00" x2="580.59" y2="323.60" stroke="#231f20" stroke-width="1.1"/>
<line x1="592.06" y1="266.10" x2="592.06" y2="250.89" stroke="#231f20" stroke-width="0.7"/>
<line x1="589.66" y1="250.89" x2="594.46" y2="250.89" stroke="#231f20" stroke-width="0.7"/>
<rect x="588.11" y="266.10" width="7.90" height="53.90" fill="#231f20"/>
<line x1="592.06" y1="320.00" x2="592.06" y2="323.60" stroke="#231f20" stroke-width="1.1"/>
<line x1="492.50" y1="204.00" x2="492.50" y2="320.80" stroke="#231f20" stroke-width="1.6"/>
<line x1="491.70" y1="320.00" x2="599.86" y2="320.00" stroke="#231f20" stroke-width="1.7"/>
<line x1="489.50" y1="320.00" x2="492.50" y2="320.00" stroke="#231f20" stroke-width="1.0"/>
<text x="487.90" y="321.98" font-size="5.5" text-anchor="end" letter-spacing="0.5">0</text>
<line x1="489.50" y1="281.50" x2="492.50" y2="281.50" stroke="#231f20" stroke-width="1.0"/>
<text x="487.90" y="283.48" font-size="5.5" text-anchor="end" letter-spacing="0.5">1</text>
<line x1="489.50" y1="243.00" x2="492.50" y2="243.00" stroke="#231f20" stroke-width="1.0"/>
<text x="487.90" y="244.98" font-size="5.5" text-anchor="end" letter-spacing="0.5">2</text>
<line x1="489.50" y1="204.50" x2="492.50" y2="204.50" stroke="#231f20" stroke-width="1.0"/>
<text x="487.90" y="206.48" font-size="5.5" text-anchor="end" letter-spacing="0.5">3</text>
<text x="480.10" y="263.05" font-size="5.1" text-anchor="middle" textLength="52.20" lengthAdjust="spacing" transform="rotate(-90 480.10 263.05)">Fold expression</text>
<text class="xl" x="501.50" y="330.00" font-size="5.5" text-anchor="end" textLength="23.00" lengthAdjust="spacing" transform="rotate(-45 501.50 330.00)">Control</text>
<text class="xl" x="524.44" y="330.00" font-size="5.5" text-anchor="end" textLength="27.00" lengthAdjust="spacing" transform="rotate(-45 524.44 330.00)">Oil 1x5nl</text>
<text class="xl" x="535.91" y="330.00" font-size="5.5" text-anchor="end" textLength="39.00" lengthAdjust="spacing" transform="rotate(-45 535.91 330.00)">CCLl4 1x1nl</text>
<text class="xl" x="547.38" y="330.00" font-size="5.5" text-anchor="end" textLength="36.00" lengthAdjust="spacing" transform="rotate(-45 547.38 330.00)">CCl4 1x5nl</text>
<text class="xl" x="570.32" y="330.00" font-size="5.5" text-anchor="end" textLength="27.00" lengthAdjust="spacing" transform="rotate(-45 570.32 330.00)">Oil 2x5nl</text>
<text class="xl" x="581.79" y="330.00" font-size="5.5" text-anchor="end" textLength="36.00" lengthAdjust="spacing" transform="rotate(-45 581.79 330.00)">CCl4 2x1nl</text>
<text class="xl" x="593.26" y="330.00" font-size="5.5" text-anchor="end" textLength="36.00" lengthAdjust="spacing" transform="rotate(-45 593.26 330.00)">CCl4 2x5nl</text>
</g>
<g>
<text x="616.40" y="187.05" font-size="9.0" fill="#1a1a1a" stroke="none">H</text>
<text x="687.50" y="191.38" font-size="6.6" text-anchor="middle" textLength="50.00" lengthAdjust="spacing">SDF-1b CCl4</text>
<rect x="638.25" y="291.25" width="7.90" height="28.75" fill="#231f20"/>
<line x1="642.20" y1="320.00" x2="642.20" y2="323.60" stroke="#231f20" stroke-width="1.1"/>
<line x1="665.14" y1="271.41" x2="665.14" y2="255.20" stroke="#231f20" stroke-width="0.7"/>
<line x1="662.74" y1="255.20" x2="667.54" y2="255.20" stroke="#231f20" stroke-width="0.7"/>
<rect x="661.19" y="271.41" width="7.90" height="48.59" fill="#231f20"/>
<line x1="665.14" y1="320.00" x2="665.14" y2="323.60" stroke="#231f20" stroke-width="1.1"/>
<line x1="676.61" y1="271.41" x2="676.61" y2="245.91" stroke="#231f20" stroke-width="0.7"/>
<line x1="674.21" y1="245.91" x2="679.01" y2="245.91" stroke="#231f20" stroke-width="0.7"/>
<rect x="672.66" y="271.41" width="7.90" height="48.59" fill="#231f20"/>
<line x1="676.61" y1="320.00" x2="676.61" y2="323.60" stroke="#231f20" stroke-width="1.1"/>
<line x1="688.08" y1="257.81" x2="688.08" y2="225.12" stroke="#231f20" stroke-width="0.7"/>
<line x1="685.68" y1="225.12" x2="690.48" y2="225.12" stroke="#231f20" stroke-width="0.7"/>
<rect x="684.13" y="257.81" width="7.90" height="62.19" fill="#231f20"/>
<line x1="688.08" y1="320.00" x2="688.08" y2="323.60" stroke="#231f20" stroke-width="1.1"/>
<line x1="711.02" y1="271.50" x2="711.02" y2="244.10" stroke="#231f20" stroke-width="0.7"/>
<line x1="708.62" y1="244.10" x2="713.42" y2="244.10" stroke="#231f20" stroke-width="0.7"/>
<rect x="707.07" y="271.50" width="7.90" height="48.50" fill="#231f20"/>
<line x1="711.02" y1="320.00" x2="711.02" y2="323.60" stroke="#231f20" stroke-width="1.1"/>
<line x1="722.49" y1="258.82" x2="722.49" y2="245.91" stroke="#231f20" stroke-width="0.7"/>
<line x1="720.09" y1="245.91" x2="724.89" y2="245.91" stroke="#231f20" stroke-width="0.7"/>
<rect x="718.54" y="258.82" width="7.90" height="61.18" fill="#231f20"/>
<line x1="722.49" y1="320.00" x2="722.49" y2="323.60" stroke="#231f20" stroke-width="1.1"/>
<line x1="733.96" y1="272.56" x2="733.96" y2="246.69" stroke="#231f20" stroke-width="0.7"/>
<line x1="731.56" y1="246.69" x2="736.36" y2="246.69" stroke="#231f20" stroke-width="0.7"/>
<rect x="730.01" y="272.56" width="7.90" height="47.44" fill="#231f20"/>
<line x1="733.96" y1="320.00" x2="733.96" y2="323.60" stroke="#231f20" stroke-width="1.1"/>
<line x1="634.40" y1="204.50" x2="634.40" y2="320.80" stroke="#231f20" stroke-width="1.6"/>
<line x1="633.60" y1="320.00" x2="741.76" y2="320.00" stroke="#231f20" stroke-width="1.7"/>
<line x1="631.40" y1="320.00" x2="634.40" y2="320.00" stroke="#231f20" stroke-width="1.0"/>
<text x="629.80" y="321.98" font-size="5.5" text-anchor="end" letter-spacing="0.5">0</text>
<line x1="631.40" y1="291.25" x2="634.40" y2="291.25" stroke="#231f20" stroke-width="1.0"/>
<text x="629.80" y="293.23" font-size="5.5" text-anchor="end" letter-spacing="0.5">1</text>
<line x1="631.40" y1="262.50" x2="634.40" y2="262.50" stroke="#231f20" stroke-width="1.0"/>
<text x="629.80" y="264.48" font-size="5.5" text-anchor="end" letter-spacing="0.5">2</text>
<line x1="631.40" y1="233.75" x2="634.40" y2="233.75" stroke="#231f20" stroke-width="1.0"/>
<text x="629.80" y="235.73" font-size="5.5" text-anchor="end" letter-spacing="0.5">3</text>
<line x1="631.40" y1="205.00" x2="634.40" y2="205.00" stroke="#231f20" stroke-width="1.0"/>
<text x="629.80" y="206.98" font-size="5.5" text-anchor="end" letter-spacing="0.5">4</text>
<text x="622.00" y="263.30" font-size="5.1" text-anchor="middle" textLength="52.20" lengthAdjust="spacing" transform="rotate(-90 622.00 263.30)">Fold expression</text>
<text class="xl" x="643.40" y="330.00" font-size="5.5" text-anchor="end" textLength="23.00" lengthAdjust="spacing" transform="rotate(-45 643.40 330.00)">Control</text>
<text class="xl" x="666.34" y="330.00" font-size="5.5" text-anchor="end" textLength="27.00" lengthAdjust="spacing" transform="rotate(-45 666.34 330.00)">Oil 1x5nl</text>
<text class="xl" x="677.81" y="330.00" font-size="5.5" text-anchor="end" textLength="39.00" lengthAdjust="spacing" transform="rotate(-45 677.81 330.00)">CCLl4 1x1nl</text>
<text class="xl" x="689.28" y="330.00" font-size="5.5" text-anchor="end" textLength="36.00" lengthAdjust="spacing" transform="rotate(-45 689.28 330.00)">CCl4 1x5nl</text>
<text class="xl" x="712.22" y="330.00" font-size="5.5" text-anchor="end" textLength="27.00" lengthAdjust="spacing" transform="rotate(-45 712.22 330.00)">Oil 2x5nl</text>
<text class="xl" x="723.69" y="330.00" font-size="5.5" text-anchor="end" textLength="36.00" lengthAdjust="spacing" transform="rotate(-45 723.69 330.00)">CCl4 2x1nl</text>
<text class="xl" x="735.16" y="330.00" font-size="5.5" text-anchor="end" textLength="36.00" lengthAdjust="spacing" transform="rotate(-45 735.16 330.00)">CCl4 2x5nl</text>
</g>
<g>
<text x="323.40" y="367.35" font-size="9.0" fill="#1a1a1a" stroke="none">I</text>
<text x="399.50" y="371.78" font-size="6.6" text-anchor="middle" textLength="11.00" lengthAdjust="spacing">GC</text>
<rect x="350.05" y="442.60" width="7.90" height="57.60" fill="#231f20"/>
<line x1="354.00" y1="500.20" x2="354.00" y2="503.80" stroke="#231f20" stroke-width="1.1"/>
<line x1="376.94" y1="429.47" x2="376.94" y2="405.56" stroke="#231f20" stroke-width="0.7"/>
<line x1="374.54" y1="405.56" x2="379.34" y2="405.56" stroke="#231f20" stroke-width="0.7"/>
<rect x="372.99" y="429.47" width="7.90" height="70.73" fill="#231f20"/>
<line x1="376.94" y1="500.20" x2="376.94" y2="503.80" stroke="#231f20" stroke-width="1.1"/>
<line x1="388.41" y1="463.51" x2="388.41" y2="448.76" stroke="#231f20" stroke-width="0.7"/>
<line x1="386.01" y1="448.76" x2="390.81" y2="448.76" stroke="#231f20" stroke-width="0.7"/>
<rect x="384.46" y="463.51" width="7.90" height="36.69" fill="#231f20"/>
<line x1="388.41" y1="500.20" x2="388.41" y2="503.80" stroke="#231f20" stroke-width="1.1"/>
<line x1="399.88" y1="421.52" x2="399.88" y2="419.56" stroke="#231f20" stroke-width="0.7"/>
<line x1="397.48" y1="419.56" x2="402.28" y2="419.56" stroke="#231f20" stroke-width="0.7"/>
<rect x="395.93" y="421.52" width="7.90" height="78.68" fill="#231f20"/>
<line x1="399.88" y1="500.20" x2="399.88" y2="503.80" stroke="#231f20" stroke-width="1.1"/>
<line x1="422.82" y1="430.50" x2="422.82" y2="415.76" stroke="#231f20" stroke-width="0.7"/>
<line x1="420.42" y1="415.76" x2="425.22" y2="415.76" stroke="#231f20" stroke-width="0.7"/>
<rect x="418.87" y="430.50" width="7.90" height="69.70" fill="#231f20"/>
<line x1="422.82" y1="500.20" x2="422.82" y2="503.80" stroke="#231f20" stroke-width="1.1"/>
<line x1="434.29" y1="447.21" x2="434.29" y2="445.60" stroke="#231f20" stroke-width="0.7"/>
<line x1="431.89" y1="445.60" x2="436.69" y2="445.60" stroke="#231f20" stroke-width="0.7"/>
<rect x="430.34" y="447.21" width="7.90" height="52.99" fill="#231f20"/>
<line x1="434.29" y1="500.20" x2="434.29" y2="503.80" stroke="#231f20" stroke-width="1.1"/>
<line x1="445.76" y1="465.52" x2="445.76" y2="452.97" stroke="#231f20" stroke-width="0.7"/>
<line x1="443.36" y1="452.97" x2="448.16" y2="452.97" stroke="#231f20" stroke-width="0.7"/>
<rect x="441.81" y="465.52" width="7.90" height="34.68" fill="#231f20"/>
<line x1="445.76" y1="500.20" x2="445.76" y2="503.80" stroke="#231f20" stroke-width="1.1"/>
<line x1="346.20" y1="384.50" x2="346.20" y2="501.00" stroke="#231f20" stroke-width="1.6"/>
<line x1="345.40" y1="500.20" x2="453.56" y2="500.20" stroke="#231f20" stroke-width="1.7"/>
<line x1="343.20" y1="500.20" x2="346.20" y2="500.20" stroke="#231f20" stroke-width="1.0"/>
<text x="341.60" y="502.18" font-size="5.5" text-anchor="end" letter-spacing="0.5">0.0</text>
<line x1="343.20" y1="471.40" x2="346.20" y2="471.40" stroke="#231f20" stroke-width="1.0"/>
<text x="341.60" y="473.38" font-size="5.5" text-anchor="end" letter-spacing="0.5">0.5</text>
<line x1="343.20" y1="442.60" x2="346.20" y2="442.60" stroke="#231f20" stroke-width="1.0"/>
<text x="341.60" y="444.58" font-size="5.5" text-anchor="end" letter-spacing="0.5">1.0</text>
<line x1="343.20" y1="413.80" x2="346.20" y2="413.80" stroke="#231f20" stroke-width="1.0"/>
<text x="341.60" y="415.78" font-size="5.5" text-anchor="end" letter-spacing="0.5">1.5</text>
<line x1="343.20" y1="385.00" x2="346.20" y2="385.00" stroke="#231f20" stroke-width="1.0"/>
<text x="341.60" y="386.98" font-size="5.5" text-anchor="end" letter-spacing="0.5">2.0</text>
<text x="327.40" y="443.40" font-size="5.1" text-anchor="middle" textLength="52.20" lengthAdjust="spacing" transform="rotate(-90 327.40 443.40)">Fold expression</text>
<text class="xl" x="355.20" y="510.20" font-size="5.5" text-anchor="end" textLength="23.00" lengthAdjust="spacing" transform="rotate(-45 355.20 510.20)">Control</text>
<text class="xl" x="378.14" y="510.20" font-size="5.5" text-anchor="end" textLength="27.00" lengthAdjust="spacing" transform="rotate(-45 378.14 510.20)">Oil 1x5nl</text>
<text class="xl" x="389.61" y="510.20" font-size="5.5" text-anchor="end" textLength="39.00" lengthAdjust="spacing" transform="rotate(-45 389.61 510.20)">CCLl4 1x1nl</text>
<text class="xl" x="401.08" y="510.20" font-size="5.5" text-anchor="end" textLength="36.00" lengthAdjust="spacing" transform="rotate(-45 401.08 510.20)">CCl4 1x5nl</text>
<text class="xl" x="424.02" y="510.20" font-size="5.5" text-anchor="end" textLength="27.00" lengthAdjust="spacing" transform="rotate(-45 424.02 510.20)">Oil 2x5nl</text>
<text class="xl" x="435.49" y="510.20" font-size="5.5" text-anchor="end" textLength="36.00" lengthAdjust="spacing" transform="rotate(-45 435.49 510.20)">CCl4 2x1nl</text>
<text class="xl" x="446.96" y="510.20" font-size="5.5" text-anchor="end" textLength="36.00" lengthAdjust="spacing" transform="rotate(-45 446.96 510.20)">CCl4 2x5nl</text>
</g>
<g>
<text x="470.20" y="367.65" font-size="9.0" fill="#1a1a1a" stroke="none">J</text>
<text x="539.50" y="371.78" font-size="6.6" text-anchor="middle" textLength="14.80" lengthAdjust="spacing">SAA</text>
<rect x="490.25" y="481.19" width="7.90" height="19.06" fill="#231f20"/>
<line x1="494.20" y1="500.25" x2="494.20" y2="503.85" stroke="#231f20" stroke-width="1.1"/>
<line x1="517.14" y1="421.00" x2="517.14" y2="412.57" stroke="#231f20" stroke-width="0.7"/>
<line x1="514.74" y1="412.57" x2="519.54" y2="412.57" stroke="#231f20" stroke-width="0.7"/>
<rect x="513.19" y="421.00" width="7.90" height="79.25" fill="#231f20"/>
<line x1="517.14" y1="500.25" x2="517.14" y2="503.85" stroke="#231f20" stroke-width="1.1"/>
<line x1="528.61" y1="432.11" x2="528.61" y2="429.60" stroke="#231f20" stroke-width="0.7"/>
<line x1="526.21" y1="429.60" x2="531.01" y2="429.60" stroke="#231f20" stroke-width="0.7"/>
<rect x="524.66" y="432.11" width="7.90" height="68.14" fill="#231f20"/>
<line x1="528.61" y1="500.25" x2="528.61" y2="503.85" stroke="#231f20" stroke-width="1.1"/>
<line x1="540.08" y1="450.20" x2="540.08" y2="419.59" stroke="#231f20" stroke-width="0.7"/>
<line x1="537.68" y1="419.59" x2="542.48" y2="419.59" stroke="#231f20" stroke-width="0.7"/>
<rect x="536.13" y="450.20" width="7.90" height="50.05" fill="#231f20"/>
<line x1="540.08" y1="500.25" x2="540.08" y2="503.85" stroke="#231f20" stroke-width="1.1"/>
<line x1="563.02" y1="468.49" x2="563.02" y2="456.94" stroke="#231f20" stroke-width="0.7"/>
<line x1="560.62" y1="456.94" x2="565.42" y2="456.94" stroke="#231f20" stroke-width="0.7"/>
<rect x="559.07" y="468.49" width="7.90" height="31.76" fill="#231f20"/>
<line x1="563.02" y1="500.25" x2="563.02" y2="503.85" stroke="#231f20" stroke-width="1.1"/>
<line x1="574.49" y1="417.96" x2="574.49" y2="404.38" stroke="#231f20" stroke-width="0.7"/>
<line x1="572.09" y1="404.38" x2="576.89" y2="404.38" stroke="#231f20" stroke-width="0.7"/>
<rect x="570.54" y="417.96" width="7.90" height="82.29" fill="#231f20"/>
<line x1="574.49" y1="500.25" x2="574.49" y2="503.85" stroke="#231f20" stroke-width="1.1"/>
<line x1="585.96" y1="434.13" x2="585.96" y2="422.29" stroke="#231f20" stroke-width="0.7"/>
<line x1="583.56" y1="422.29" x2="588.36" y2="422.29" stroke="#231f20" stroke-width="0.7"/>
<rect x="582.01" y="434.13" width="7.90" height="66.12" fill="#231f20"/>
<line x1="585.96" y1="500.25" x2="585.96" y2="503.85" stroke="#231f20" stroke-width="1.1"/>
<line x1="486.40" y1="384.25" x2="486.40" y2="501.05" stroke="#231f20" stroke-width="1.6"/>
<line x1="485.60" y1="500.25" x2="593.76" y2="500.25" stroke="#231f20" stroke-width="1.7"/>
<line x1="483.40" y1="500.25" x2="486.40" y2="500.25" stroke="#231f20" stroke-width="1.0"/>
<text x="481.80" y="502.23" font-size="5.5" text-anchor="end" letter-spacing="0.5">0</text>
<line x1="483.40" y1="461.75" x2="486.40" y2="461.75" stroke="#231f20" stroke-width="1.0"/>
<text x="481.80" y="463.73" font-size="5.5" text-anchor="end" letter-spacing="0.5">2</text>
<line x1="483.40" y1="423.25" x2="486.40" y2="423.25" stroke="#231f20" stroke-width="1.0"/>
<text x="481.80" y="425.23" font-size="5.5" text-anchor="end" letter-spacing="0.5">4</text>
<line x1="483.40" y1="384.75" x2="486.40" y2="384.75" stroke="#231f20" stroke-width="1.0"/>
<text x="481.80" y="386.73" font-size="5.5" text-anchor="end" letter-spacing="0.5">6</text>
<text x="474.00" y="443.30" font-size="5.1" text-anchor="middle" textLength="52.20" lengthAdjust="spacing" transform="rotate(-90 474.00 443.30)">Fold expression</text>
<text class="xl" x="495.40" y="510.25" font-size="5.5" text-anchor="end" textLength="23.00" lengthAdjust="spacing" transform="rotate(-45 495.40 510.25)">Control</text>
<text class="xl" x="518.34" y="510.25" font-size="5.5" text-anchor="end" textLength="27.00" lengthAdjust="spacing" transform="rotate(-45 518.34 510.25)">Oil 1x5nl</text>
<text class="xl" x="529.81" y="510.25" font-size="5.5" text-anchor="end" textLength="39.00" lengthAdjust="spacing" transform="rotate(-45 529.81 510.25)">CCLl4 1x1nl</text>
<text class="xl" x="541.28" y="510.25" font-size="5.5" text-anchor="end" textLength="36.00" lengthAdjust="spacing" transform="rotate(-45 541.28 510.25)">CCl4 1x5nl</text>
<text class="xl" x="564.22" y="510.25" font-size="5.5" text-anchor="end" textLength="27.00" lengthAdjust="spacing" transform="rotate(-45 564.22 510.25)">Oil 2x5nl</text>
<text class="xl" x="575.69" y="510.25" font-size="5.5" text-anchor="end" textLength="36.00" lengthAdjust="spacing" transform="rotate(-45 575.69 510.25)">CCl4 2x1nl</text>
<text class="xl" x="587.16" y="510.25" font-size="5.5" text-anchor="end" textLength="36.00" lengthAdjust="spacing" transform="rotate(-45 587.16 510.25)">CCl4 2x5nl</text>
</g>
<g>
<text x="616.30" y="367.55" font-size="9.0" fill="#1a1a1a" stroke="none">K</text>
<text x="685.30" y="371.78" font-size="6.6" text-anchor="middle" textLength="18.90" lengthAdjust="spacing">α1AT</text>
<rect x="636.25" y="443.05" width="7.90" height="57.55" fill="#231f20"/>
<line x1="640.20" y1="500.60" x2="640.20" y2="504.20" stroke="#231f20" stroke-width="1.1"/>
<line x1="663.14" y1="449.84" x2="663.14" y2="448.46" stroke="#231f20" stroke-width="0.7"/>
<line x1="660.74" y1="448.46" x2="665.54" y2="448.46" stroke="#231f20" stroke-width="0.7"/>
<rect x="659.19" y="449.84" width="7.90" height="50.76" fill="#231f20"/>
<line x1="663.14" y1="500.60" x2="663.14" y2="504.20" stroke="#231f20" stroke-width="1.1"/>
<line x1="674.61" y1="470.33" x2="674.61" y2="469.70" stroke="#231f20" stroke-width="0.7"/>
<line x1="672.21" y1="469.70" x2="677.01" y2="469.70" stroke="#231f20" stroke-width="0.7"/>
<rect x="670.66" y="470.33" width="7.90" height="30.27" fill="#231f20"/>
<line x1="674.61" y1="500.60" x2="674.61" y2="504.20" stroke="#231f20" stroke-width="1.1"/>
<line x1="686.08" y1="418.30" x2="686.08" y2="402.76" stroke="#231f20" stroke-width="0.7"/>
<line x1="683.68" y1="402.76" x2="688.48" y2="402.76" stroke="#231f20" stroke-width="0.7"/>
<rect x="682.13" y="418.30" width="7.90" height="82.30" fill="#231f20"/>
<line x1="686.08" y1="500.60" x2="686.08" y2="504.20" stroke="#231f20" stroke-width="1.1"/>
<line x1="709.02" y1="436.37" x2="709.02" y2="427.28" stroke="#231f20" stroke-width="0.7"/>
<line x1="706.62" y1="427.28" x2="711.42" y2="427.28" stroke="#231f20" stroke-width="0.7"/>
<rect x="705.07" y="436.37" width="7.90" height="64.23" fill="#231f20"/>
<line x1="709.02" y1="500.60" x2="709.02" y2="504.20" stroke="#231f20" stroke-width="1.1"/>
<line x1="720.49" y1="459.74" x2="720.49" y2="448.63" stroke="#231f20" stroke-width="0.7"/>
<line x1="718.09" y1="448.63" x2="722.89" y2="448.63" stroke="#231f20" stroke-width="0.7"/>
<rect x="716.54" y="459.74" width="7.90" height="40.86" fill="#231f20"/>
<line x1="720.49" y1="500.60" x2="720.49" y2="504.20" stroke="#231f20" stroke-width="1.1"/>
<line x1="731.96" y1="464.34" x2="731.96" y2="456.86" stroke="#231f20" stroke-width="0.7"/>
<line x1="729.56" y1="456.86" x2="734.36" y2="456.86" stroke="#231f20" stroke-width="0.7"/>
<rect x="728.01" y="464.34" width="7.90" height="36.26" fill="#231f20"/>
<line x1="731.96" y1="500.60" x2="731.96" y2="504.20" stroke="#231f20" stroke-width="1.1"/>
<line x1="632.40" y1="385.00" x2="632.40" y2="501.40" stroke="#231f20" stroke-width="1.6"/>
<line x1="631.60" y1="500.60" x2="739.76" y2="500.60" stroke="#231f20" stroke-width="1.7"/>
<line x1="629.40" y1="500.60" x2="632.40" y2="500.60" stroke="#231f20" stroke-width="1.0"/>
<text x="627.80" y="502.58" font-size="5.5" text-anchor="end" letter-spacing="0.5">0.0</text>
<line x1="629.40" y1="471.83" x2="632.40" y2="471.83" stroke="#231f20" stroke-width="1.0"/>
<text x="627.80" y="473.81" font-size="5.5" text-anchor="end" letter-spacing="0.5">0.5</text>
<line x1="629.40" y1="443.05" x2="632.40" y2="443.05" stroke="#231f20" stroke-width="1.0"/>
<text x="627.80" y="445.03" font-size="5.5" text-anchor="end" letter-spacing="0.5">1.0</text>
<line x1="629.40" y1="414.27" x2="632.40" y2="414.27" stroke="#231f20" stroke-width="1.0"/>
<text x="627.80" y="416.25" font-size="5.5" text-anchor="end" letter-spacing="0.5">1.5</text>
<line x1="629.40" y1="385.50" x2="632.40" y2="385.50" stroke="#231f20" stroke-width="1.0"/>
<text x="627.80" y="387.48" font-size="5.5" text-anchor="end" letter-spacing="0.5">2.0</text>
<text x="613.60" y="443.85" font-size="5.1" text-anchor="middle" textLength="52.20" lengthAdjust="spacing" transform="rotate(-90 613.60 443.85)">Fold expression</text>
<text class="xl" x="641.40" y="510.60" font-size="5.5" text-anchor="end" textLength="23.00" lengthAdjust="spacing" transform="rotate(-45 641.40 510.60)">Control</text>
<text class="xl" x="664.34" y="510.60" font-size="5.5" text-anchor="end" textLength="27.00" lengthAdjust="spacing" transform="rotate(-45 664.34 510.60)">Oil 1x5nl</text>
<text class="xl" x="675.81" y="510.60" font-size="5.5" text-anchor="end" textLength="39.00" lengthAdjust="spacing" transform="rotate(-45 675.81 510.60)">CCLl4 1x1nl</text>
<text class="xl" x="687.28" y="510.60" font-size="5.5" text-anchor="end" textLength="36.00" lengthAdjust="spacing" transform="rotate(-45 687.28 510.60)">CCl4 1x5nl</text>
<text class="xl" x="710.22" y="510.60" font-size="5.5" text-anchor="end" textLength="27.00" lengthAdjust="spacing" transform="rotate(-45 710.22 510.60)">Oil 2x5nl</text>
<text class="xl" x="721.69" y="510.60" font-size="5.5" text-anchor="end" textLength="36.00" lengthAdjust="spacing" transform="rotate(-45 721.69 510.60)">CCl4 2x1nl</text>
<text class="xl" x="733.16" y="510.60" font-size="5.5" text-anchor="end" textLength="36.00" lengthAdjust="spacing" transform="rotate(-45 733.16 510.60)">CCl4 2x5nl</text>
</g>
<line x1="492.75" y1="378.40" x2="582.80" y2="378.40" stroke="#3a3637" stroke-width="0.8"/>
<text x="538.20" y="381.20" font-size="8.5" text-anchor="middle" style="stroke:#231f20;stroke-width:0.3px">*</text>
<line x1="492.75" y1="383.40" x2="575.30" y2="383.40" stroke="#3a3637" stroke-width="0.8"/>
<text x="535.60" y="386.20" font-size="8.5" text-anchor="middle" style="stroke:#231f20;stroke-width:0.3px">*</text>
<line x1="492.75" y1="388.50" x2="559.80" y2="388.50" stroke="#3a3637" stroke-width="0.8"/>
<text x="527.10" y="391.30" font-size="8.5" text-anchor="middle" style="stroke:#231f20;stroke-width:0.3px">*</text>
<line x1="492.75" y1="393.50" x2="538.20" y2="393.50" stroke="#3a3637" stroke-width="0.8"/>
<text x="516.60" y="396.30" font-size="8.5" text-anchor="middle" style="stroke:#231f20;stroke-width:0.3px">*</text>
<line x1="492.75" y1="398.75" x2="524.10" y2="398.75" stroke="#3a3637" stroke-width="0.8"/>
<text x="509.75" y="401.55" font-size="8.5" text-anchor="middle" style="stroke:#231f20;stroke-width:0.3px">*</text>
<line x1="492.75" y1="404.00" x2="516.90" y2="404.00" stroke="#3a3637" stroke-width="0.8"/>
<text x="506.25" y="406.80" font-size="8.5" text-anchor="middle" style="stroke:#231f20;stroke-width:0.3px">*</text>
</svg>
</body>
</html>
